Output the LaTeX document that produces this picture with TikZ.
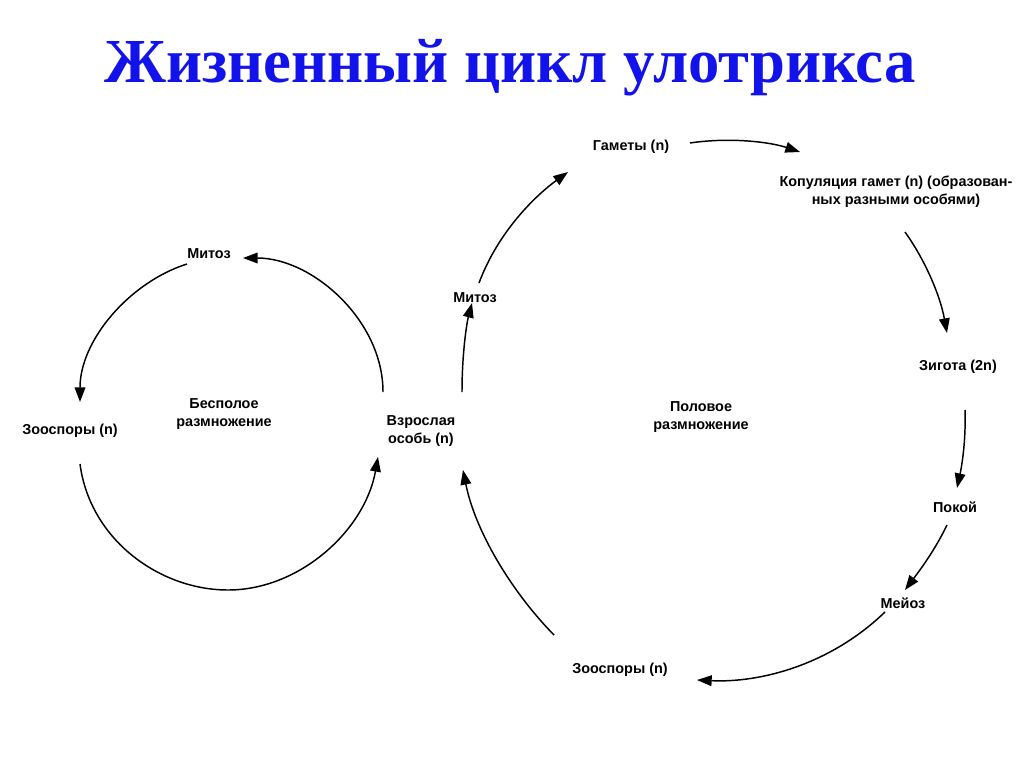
\documentclass[tikz,border=0pt]{standalone}
\usepackage{fontspec}
\setmainfont{Liberation Serif}
\newfontfamily\lblfont{Liberation Sans}
\usetikzlibrary{arrows.meta}
\definecolor{titleblue}{RGB}{18,18,235}
\begin{document}
\begin{tikzpicture}[x=0.75pt,y=-0.75pt,
  lbl/.style={font=\lblfont\bfseries\fontsize{10.8pt}{13.5pt}\selectfont, align=center, inner sep=0pt},
  conn/.style={line width=1.1pt, -{Triangle[length=11pt,width=8pt]}}]
\useasboundingbox (0,0) rectangle (1024,767);
\fill[white] (0,0) rectangle (1024,767);
\node[font=\bfseries\fontsize{47pt}{52pt}\selectfont, text=titleblue, inner sep=0pt, anchor=base] (title) at (510,83) {Жизненный цикл улотрикса};
% labels
\node[lbl] (mitL) at (209,254) {Митоз};
\node[lbl] (zooL) at (70,431) {Зооспоры (n)};
\node[lbl] (bespol) at (224,414) {Бесполое\\размножение};
\node[lbl] (adult) at (421,431) {Взрослая\\особь (n)};
\node[lbl] (mitR) at (475,298) {Митоз};
\node[lbl] (gam) at (631,147) {Гаметы (n)};
\node[lbl] (kop) at (896,192) {Копуляция гамет (n) (образован-\\ных разными особями)};
\node[lbl] (zig) at (958,367) {Зигота (2n)};
\node[lbl] (pok) at (955,507) {Покой};
\node[lbl] (mei) at (903,603) {Мейоз};
\node[lbl] (zooR) at (620,670) {Зооспоры (n)};
\node[lbl] (polov) at (701,417) {Половое\\размножение};
% connector ends
\coordinate (a1s) at (383,392); \coordinate (a1e) at (243,258);
\coordinate (a2s) at (187,264); \coordinate (a2e) at (80,402);
\coordinate (a3s) at (80,464); \coordinate (a3m) at (228,590); \coordinate (a3e) at (378,457);
\coordinate (a4s) at (462,392); \coordinate (a4e) at (472,303);
\coordinate (a5s) at (479,283); \coordinate (a5e) at (568,172);
\coordinate (a6s) at (690,143); \coordinate (a6e) at (800,152);
\coordinate (a7s) at (905,232); \coordinate (a7e) at (947,333);
\coordinate (a8s) at (965,410); \coordinate (a8e) at (957,488);
\coordinate (a9s) at (947,525); \coordinate (a9e) at (905,590);
\coordinate (a10s) at (885,612); \coordinate (a10e) at (697,680);
\coordinate (a11s) at (554,635); \coordinate (a11e) at (463,470);
% connectors
\draw[conn] (a1s) .. controls (383,320) and (312,258) .. (a1e);
\draw[conn] (a2s) .. controls (130,282) and (80,340) .. (a2e);
\draw[conn] (a3s) .. controls (90,540) and (160,590) .. (a3m) .. controls (300,590) and (365,530) .. (a3e);
\draw[conn] (a4s) .. controls (462,352) and (467,322) .. (a4e);
\draw[conn] (a5s) .. controls (498,232) and (535,196) .. (a5e);
\draw[conn] (a6s) .. controls (730,137) and (770,142) .. (a6e);
\draw[conn] (a7s) .. controls (925,260) and (940,295) .. (a7e);
\draw[conn] (a8s) .. controls (966,440) and (962,465) .. (a8e);
\draw[conn] (a9s) .. controls (935,550) and (920,570) .. (a9e);
\draw[conn] (a10s) .. controls (830,665) and (760,683) .. (a10e);
\draw[conn] (a11s) .. controls (510,590) and (475,530) .. (a11e);
\end{tikzpicture}
\end{document}
